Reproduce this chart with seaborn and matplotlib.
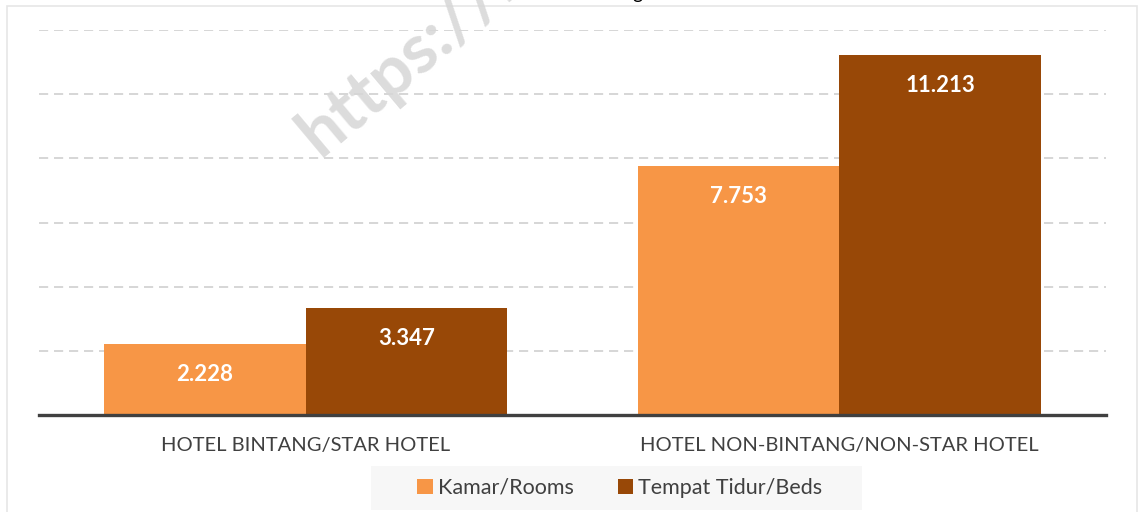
import matplotlib
matplotlib.use("Agg")
import matplotlib.pyplot as plt
import seaborn as sns
import pandas as pd
from matplotlib.patches import Rectangle

categories = ["HOTEL BINTANG/STAR HOTEL", "HOTEL NON-BINTANG/NON-STAR HOTEL"]
series = ["Kamar/Rooms", "Tempat Tidur/Beds"]
rooms = [2228, 7753]
beds = [3347, 11213]
value_labels_rooms = ["2.228", "7.753"]
value_labels_beds = ["3.347", "11.213"]
colors = ["#F79646", "#984807"]

df = pd.DataFrame({
    "cat": categories * 2,
    "series": [series[0]] * 2 + [series[1]] * 2,
    "val": rooms + beds,
})

sns.set_theme(style="white")
plt.rcParams["font.family"] = ["Lato", "DejaVu Sans"]

W, H = 1139, 512
fig = plt.figure(figsize=(W / 100, H / 100), dpi=100)
fig.patch.set_facecolor("white")

def fx(px):
    return px / W

def fy(py):
    return 1 - py / H

# chart border
fig.add_artist(Rectangle((fx(6.5), fy(530)), fx(1136.5) - fx(6.5), fy(6) - fy(530),
                         transform=fig.transFigure, fill=False,
                         edgecolor="#e6e6e6", linewidth=1.2, zorder=0))

ax = fig.add_axes([fx(39), fy(415.2), fx(1106) - fx(39), fy(30) - fy(415.2)])
sns.barplot(data=df, x="cat", y="val", hue="series", order=categories,
            hue_order=series, palette=colors, saturation=1, width=0.755,
            gap=0, linewidth=0, ax=ax, legend=True, errorbar=None, zorder=3)

ax.set_xlim(-0.5, 1.5)
ax.set_ylim(0, 12000)
ax.set_yticks([2000, 4000, 6000, 8000, 10000, 12000])
ax.set_yticklabels([])
ax.tick_params(axis="y", length=0)
ax.yaxis.grid(True, color="#d0d0d0", linewidth=1.2, linestyle=(0, (5.5, 3.5)), zorder=0)
ax.xaxis.grid(False)
ax.set_axisbelow(True)
for s in ["top", "right", "left"]:
    ax.spines[s].set_visible(False)
ax.spines["bottom"].set_color("#404040")
ax.spines["bottom"].set_linewidth(2.4)
ax.spines["bottom"].set_zorder(5)
ax.set_xlabel("")
ax.set_ylabel("")
ax.tick_params(axis="x", length=0, pad=16, labelsize=14.5, labelcolor="#404040")
ax.set_facecolor("none")

# value labels inside end
for cont, labs in zip(ax.containers, [value_labels_rooms, value_labels_beds]):
    ax.bar_label(cont, labels=labs, label_type="edge", padding=-29.5,
                 color="white", fontsize=16, fontweight="bold")

handles, labels = ax.get_legend_handles_labels()
ax.get_legend().remove()

# legend background
fig.add_artist(Rectangle((fx(371), fy(510)), fx(862) - fx(371), fy(466) - fy(510),
                         transform=fig.transFigure, facecolor="#f7f7f7",
                         edgecolor="none", zorder=1))
leg = fig.legend(handles, labels, loc="center", bbox_to_anchor=(fx(620), fy(488)),
                 ncol=2, frameon=False, fontsize=15.5, handlelength=0.7,
                 handleheight=0.7, handletextpad=0.25, columnspacing=2.05,
                 labelcolor="#404040", borderpad=0)
leg.set_zorder(2)

# watermark
fig.text(fx(320), fy(158), "https://k", rotation=40, rotation_mode="anchor",
         ha="left", va="baseline", fontsize=50, fontweight="bold",
         color="#d6d6d6", alpha=0.85, zorder=10)

# cut-off title descender
fig.text(fx(637), fy(-1), "g", ha="center", va="baseline", fontsize=14,
         color="black")

fig.savefig("out.png", dpi=100)
